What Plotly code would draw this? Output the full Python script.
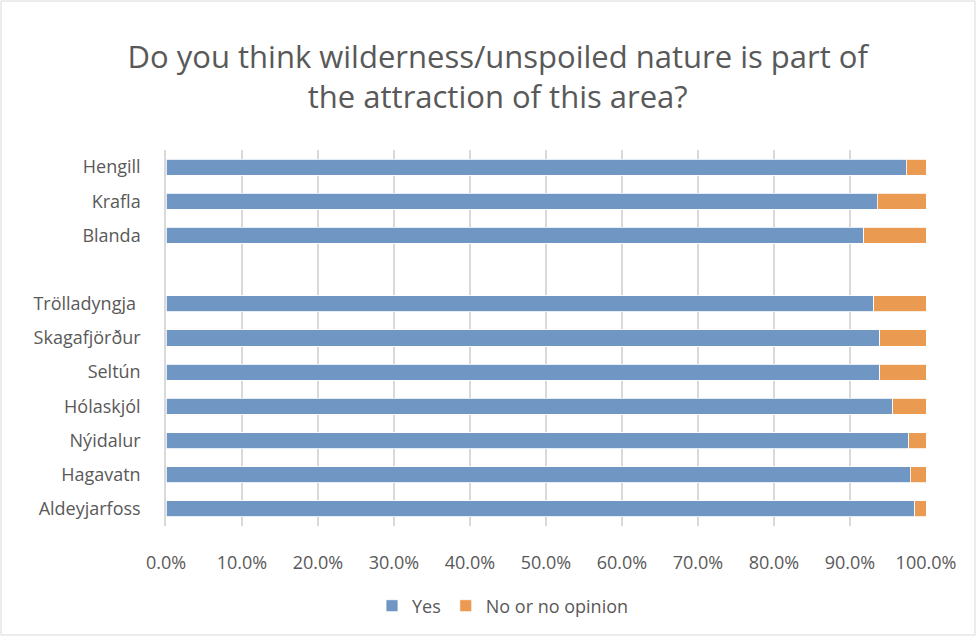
import plotly.graph_objects as go

categories = ["Hengill", "Krafla", "Blanda", " ", "Trölladyngja ", "Skagafjörður",
              "Seltún", "Hólaskjól", "Nýidalur", "Hagavatn", "Aldeyjarfoss"]
yes_pct = [97.4, 93.6, 91.8, None, 93.1, 93.9, 93.9, 95.6, 97.7, 97.9, 98.5]
no_pct = [None if v is None else round(100 - v, 1) for v in yes_pct]

yes_vals = [None if v is None else v / 100 for v in yes_pct]
no_vals = [None if v is None else v / 100 for v in no_pct]

font_family = "Open Sans, Noto Sans, sans-serif"
text_color = "#595959"

fig = go.Figure()
fig.add_trace(go.Bar(
    y=categories, x=yes_vals, orientation="h", name="Yes",
    marker=dict(color="#7097c4", line=dict(color="white", width=0.8)),
    width=0.47,
))
fig.add_trace(go.Bar(
    y=categories, x=no_vals, orientation="h", name="No or no opinion",
    marker=dict(color="#eb9a52", line=dict(color="white", width=0.8)),
    width=0.47,
))

fig.update_layout(
    barmode="stack",
    width=976, height=636,
    paper_bgcolor="white", plot_bgcolor="white",
    margin=dict(l=166, r=50, t=150, b=110, autoexpand=False),
    font=dict(family=font_family, color=text_color, size=18),
    title=dict(
        text="Do you think wilderness/unspoiled nature is part of<br>the attraction of this area?",
        x=0.51, xanchor="center", y=1 - 68 / 636, yanchor="middle", yref="container",
        font=dict(size=31, color=text_color, family=font_family),
    ),
    showlegend=True,
    legend=dict(orientation="h", x=503 / 976, xanchor="center", xref="container",
                y=1 - 606 / 636, yanchor="middle", yref="container",
                bgcolor="rgba(0,0,0,0)",
                font=dict(size=18, color=text_color), traceorder="normal"),
    xaxis=dict(
        range=[0, 1], dtick=0.1, tick0=0, tickformat=".1%",
        showgrid=True, gridcolor="#d9d9d9", gridwidth=2,
        zeroline=False, showline=False, ticks="", ticklabelstandoff=24,
        tickfont=dict(size=18, color=text_color),
    ),
    yaxis=dict(
        categoryorder="array", categoryarray=categories,
        autorange="reversed", showgrid=False,
        showline=True, linecolor="#d9d9d9", linewidth=1.5,
        ticks="", ticklabelstandoff=20,
        tickfont=dict(size=18, color=text_color),
    ),
    shapes=[dict(type="rect", xref="paper", yref="paper",
                 x0=-165/760, x1=1 + 49/760, y0=-109/376, y1=1 + 149/376,
                 line=dict(color="#d9d9d9", width=1), layer="below")],
)

fig.write_html("out.html")
